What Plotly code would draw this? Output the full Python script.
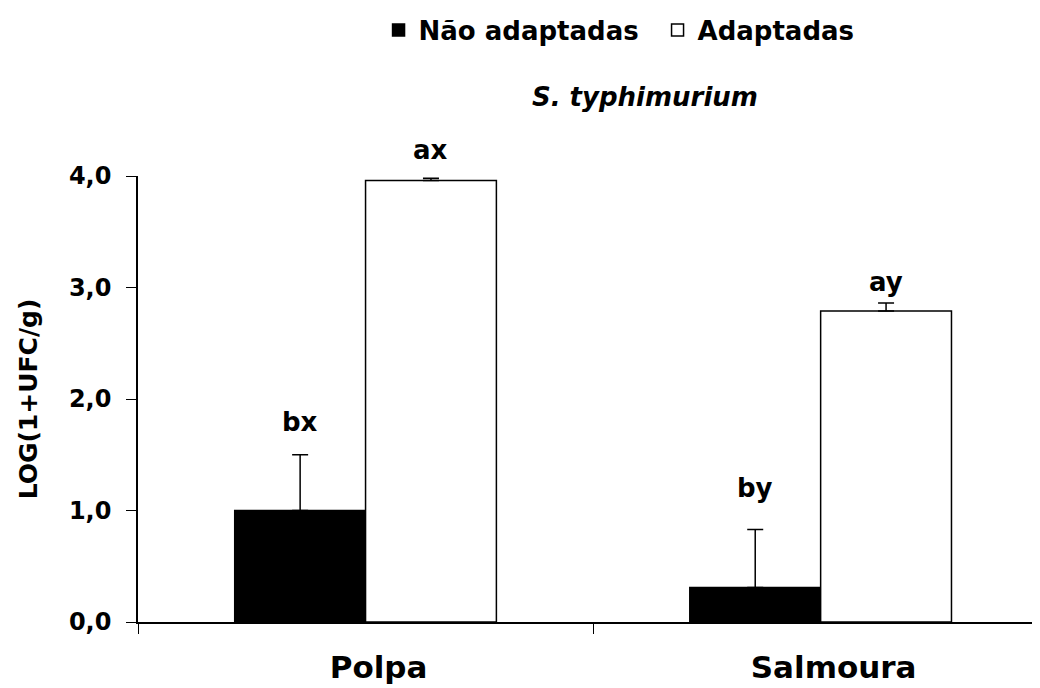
import plotly.graph_objects as go

# ---- data ----
categories = ["Polpa", "Salmoura"]
series_names = ["Não adaptadas", "Adaptadas"]
nao_adaptadas = [1.00, 0.31]
nao_adaptadas_err = [0.50, 0.52]
adaptadas = [3.96, 2.79]
adaptadas_err = [0.02, 0.07]
nao_labels = ["bx", "by"]
adapt_labels = ["ax", "ay"]
nao_label_y = [1.79, 1.20]
adapt_label_y = [4.23, 3.05]
y_tickvals = [0, 1, 2, 3, 4]
Y_MAX = 4

FONT = "DejaVu Sans, Verdana, sans-serif"
BARGAP = 0.425
W, H = 1032, 680

fig = go.Figure()
fig.add_trace(go.Bar(
    name=series_names[0], x=categories, y=nao_adaptadas,
    marker=dict(color="black", line=dict(color="black", width=1.5)),
    error_y=dict(type="data", symmetric=False, array=nao_adaptadas_err,
                 arrayminus=[0] * len(categories), color="black", thickness=1.5, width=8),
))
fig.add_trace(go.Bar(
    name=series_names[1], x=categories, y=adaptadas,
    marker=dict(color="white", line=dict(color="black", width=1.5)),
    error_y=dict(type="data", symmetric=False, array=adaptadas_err,
                 arrayminus=[0] * len(categories), color="black", thickness=1.5, width=8),
))

off = (1 - BARGAP) / 4
lab_font = dict(size=26, color="black", family=FONT, weight="bold")
for i in range(len(categories)):
    fig.add_annotation(x=i - off, y=nao_label_y[i] / Y_MAX, text=nao_labels[i], showarrow=False,
                       xref="x", yref="paper", xanchor="center", yanchor="middle", font=lab_font)
    fig.add_annotation(x=i + off, y=adapt_label_y[i] / Y_MAX, text=adapt_labels[i], showarrow=False,
                       xref="x", yref="paper", xanchor="center", yanchor="middle", font=lab_font)

fig.update_layout(
    width=W, height=H,
    margin=dict(l=130, r=0, t=168, b=66),
    paper_bgcolor="white", plot_bgcolor="white",
    barmode="group", bargap=BARGAP, bargroupgap=0,
    separators=",.",
    font=dict(family=FONT, color="black", weight="bold"),
    title=dict(text="<i>S. typhimurium</i>", x=0.562, xref="paper", xanchor="center",
               y=1 - 89 / H, yref="container", yanchor="middle",
               font=dict(size=26, family=FONT, color="black", weight="bold")),
    legend=dict(orientation="h", x=0.576, xanchor="center", xref="paper",
                y=1 - 22 / H, yref="container", yanchor="middle",
                entrywidth=234, entrywidthmode="pixels",
                font=dict(size=26, family=FONT, color="black", weight="bold"),
                traceorder="normal", bgcolor="rgba(0,0,0,0)"),
    showlegend=True,
)
fig.update_xaxes(
    type="category", range=[-0.5, 1.482],
    showline=True, linecolor="black", linewidth=1.5,
    ticks="outside", tickson="boundaries", ticklen=10, tickcolor="black", tickwidth=1,
    tickfont=dict(size=31, family=FONT, color="black", weight="bold"),
    ticklabelstandoff=17, ticklabelshift=13, showgrid=False,
)
fig.update_yaxes(
    range=[0, Y_MAX], tickvals=y_tickvals, tickformat=".1f",
    showline=True, linecolor="black", linewidth=1.5,
    ticks="outside", ticklen=10, tickcolor="black", tickwidth=1,
    tickfont=dict(size=24, family=FONT, color="black", weight="bold"),
    ticklabelstandoff=10, showgrid=False, zeroline=False,
    title=dict(text="LOG(1+UFC/g)", standoff=24,
               font=dict(size=25, family=FONT, color="black", weight="bold")),
)

fig.write_html("out.html")
